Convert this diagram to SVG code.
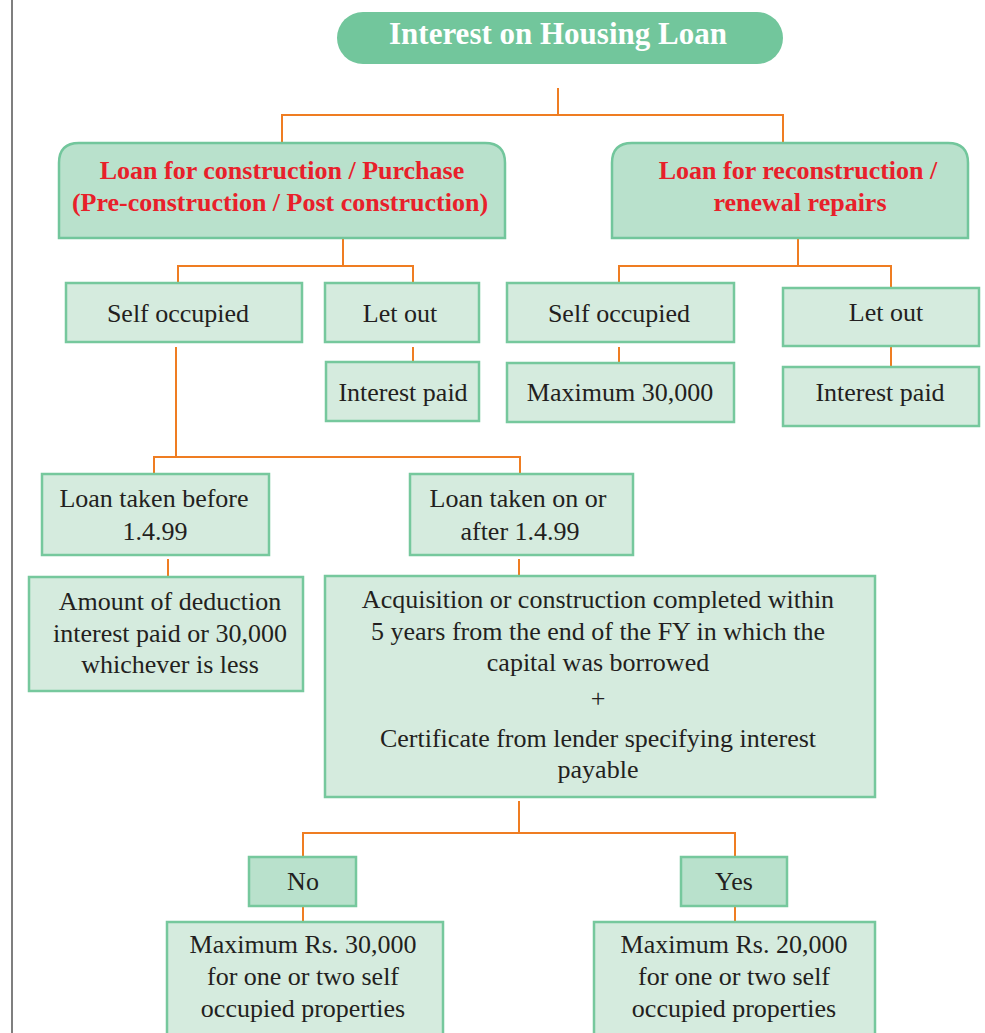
<svg xmlns="http://www.w3.org/2000/svg" width="985" height="1033" viewBox="0 0 985 1033">
  <defs>
    <style>
      .pill { fill: #72c69c; }
      .head { fill: #b9e1cc; stroke: #72c69c; stroke-width: 2.5; }
      .box { fill: #d5ebde; stroke: #76c89d; stroke-width: 2.5; }
      .dark { fill: #b9e1cc; stroke: #76c89d; stroke-width: 2.5; }
      .wire { fill: none; stroke: #ef7d22; stroke-width: 2; }
      text { font-family: "Liberation Serif", "Times New Roman", serif; text-anchor: middle; }
      .t { font-size: 26px; fill: #231f20; }
      .r { font-size: 26px; font-weight: bold; fill: #e8202a; }
      .w { font-size: 31px; font-weight: bold; fill: #ffffff; }
    </style>
  </defs>
  <rect width="985" height="1033" fill="#ffffff"/>
  <line x1="12" y1="0" x2="12" y2="1033" stroke="#555555" stroke-width="1.5"/>

  <!-- connectors -->
  <g id="connectors" class="wire">
    <path d="M558,88 V115 M282,143 V115 H783 V143"/>
    <path d="M343,238 V266 M178,284 V266 H413 V284"/>
    <path d="M798,238 V266 M619,284 V266 H891 V288"/>
    <path d="M413,347 V362"/>
    <path d="M619,347 V363"/>
    <path d="M891,346 V367"/>
    <path d="M176,347 V457 M154,474 V457 H520 V474"/>
    <path d="M168,559 V577"/>
    <path d="M519,559 V576"/>
    <path d="M519,801 V833 M303,857 V833 H735 V857"/>
    <path d="M303,906 V922"/>
    <path d="M735,906 V922"/>
  </g>

  <g id="root">
    <rect class="pill" x="337" y="12" width="446" height="52" rx="26"/>
    <text class="w" x="558" y="44">Interest on Housing Loan</text>
  </g>

  <g id="construction">
    <path class="head" d="M59,238 V163 Q59,143 79,143 H485 Q505,143 505,163 V238 Z"/>
    <text class="r" x="282" y="179">Loan for construction / Purchase</text>
    <text class="r" x="280" y="211">(Pre-construction / Post construction)</text>
  </g>

  <g id="reconstruction">
    <path class="head" d="M612,238 V163 Q612,143 632,143 H948 Q968,143 968,163 V238 Z"/>
    <text class="r" x="798" y="179">Loan for reconstruction /</text>
    <text class="r" x="800" y="211">renewal repairs</text>
  </g>

  <g id="self-occupied-a">
    <rect class="box" x="66" y="283" width="236" height="59"/>
    <text class="t" x="178" y="322">Self occupied</text>
  </g>

  <g id="let-out-a">
    <rect class="box" x="325" y="283" width="154" height="59"/>
    <text class="t" x="400" y="322">Let out</text>
  </g>

  <g id="interest-paid-a">
    <rect class="box" x="326" y="362" width="153" height="59"/>
    <text class="t" x="403" y="401">Interest paid</text>
  </g>

  <g id="self-occupied-b">
    <rect class="box" x="507" y="283" width="227" height="59"/>
    <text class="t" x="619" y="322">Self occupied</text>
  </g>

  <g id="max-30000">
    <rect class="box" x="507" y="363" width="227" height="59"/>
    <text class="t" x="620" y="401">Maximum 30,000</text>
  </g>

  <g id="let-out-b">
    <rect class="box" x="783" y="288" width="196" height="58"/>
    <text class="t" x="886" y="321">Let out</text>
  </g>

  <g id="interest-paid-b">
    <rect class="box" x="783" y="367" width="196" height="59"/>
    <text class="t" x="880" y="401">Interest paid</text>
  </g>

  <g id="before-1999">
    <rect class="box" x="42" y="474" width="227" height="81"/>
    <text class="t" x="154" y="507">Loan taken before</text>
    <text class="t" x="155" y="540">1.4.99</text>
  </g>

  <g id="after-1999">
    <rect class="box" x="410" y="474" width="223" height="81"/>
    <text class="t" x="518" y="507">Loan taken on or</text>
    <text class="t" x="520" y="540">after 1.4.99</text>
  </g>

  <g id="deduction">
    <rect class="box" x="29" y="577" width="274" height="114"/>
    <text class="t" x="170" y="610">Amount of deduction</text>
    <text class="t" x="170" y="642">interest paid or 30,000</text>
    <text class="t" x="170" y="673">whichever is less</text>
  </g>

  <g id="condition">
    <rect class="box" x="325" y="576" width="550" height="221"/>
    <text class="t" x="598" y="608">Acquisition or construction completed within</text>
    <text class="t" x="598" y="640">5 years from the end of the FY in which the</text>
    <text class="t" x="598" y="671">capital was borrowed</text>
    <text class="t" x="598" y="707">+</text>
    <text class="t" x="598" y="747">Certificate from lender specifying interest</text>
    <text class="t" x="598" y="778">payable</text>
  </g>

  <g id="no">
    <rect class="dark" x="249" y="857" width="107" height="49"/>
    <text class="t" x="303" y="890">No</text>
  </g>

  <g id="yes">
    <rect class="dark" x="681" y="857" width="106" height="49"/>
    <text class="t" x="734" y="890">Yes</text>
  </g>

  <g id="max-rs-30000">
    <rect class="box" x="167" y="922" width="276" height="120"/>
    <text class="t" x="303" y="953">Maximum Rs. 30,000</text>
    <text class="t" x="303" y="985">for one or two self</text>
    <text class="t" x="303" y="1017">occupied properties</text>
  </g>

  <g id="max-rs-20000">
    <rect class="box" x="594" y="922" width="281" height="120"/>
    <text class="t" x="734" y="953">Maximum Rs. 20,000</text>
    <text class="t" x="734" y="985">for one or two self</text>
    <text class="t" x="734" y="1017">occupied properties</text>
  </g>
</svg>
